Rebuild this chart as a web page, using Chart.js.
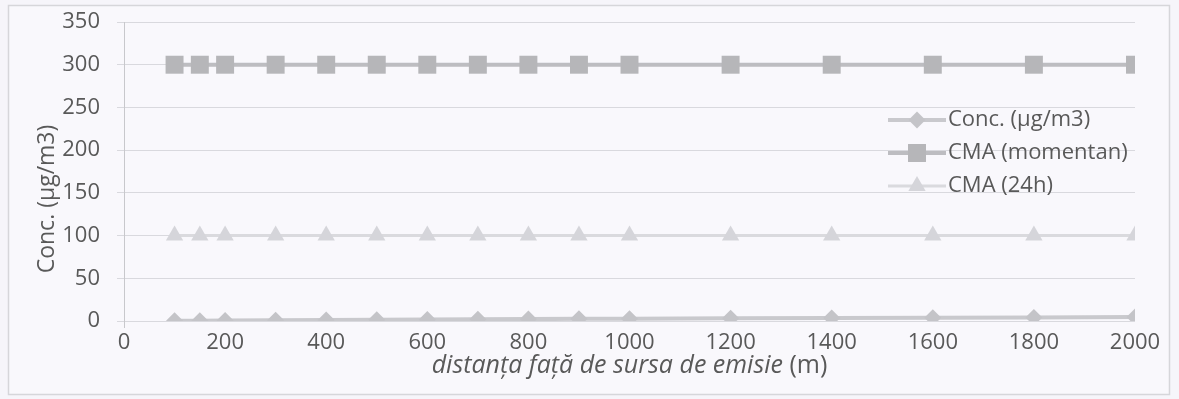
<!DOCTYPE html>
<html>
<head>
<meta charset="utf-8">
<script src="https://cdn.jsdelivr.net/npm/chart.js@4.4.1/dist/chart.umd.min.js"></script>
<style>
  html, body { margin: 0; padding: 0; background: #f6f5fa; }
  canvas { display: block; }
</style>
</head>
<body>
<canvas id="chart" width="1179" height="399"></canvas>
<script>
// distance from the emission source (m)
const distances = [100, 150, 200, 300, 400, 500, 600, 700, 800, 900, 1000, 1200, 1400, 1600, 1800, 2000];
// concentration values (µg/m3)
const conc = [0.3, 0.4, 0.6, 0.8, 1.1, 1.4, 1.7, 2.0, 2.2, 2.5, 2.7, 3.1, 3.5, 3.9, 4.2, 4.6];
const cmaMomentan = [300, 300, 300, 300, 300, 300, 300, 300, 300, 300, 300, 300, 300, 300, 300, 300];
const cma24h = [100, 100, 100, 100, 100, 100, 100, 100, 100, 100, 100, 100, 100, 100, 100, 100];

const seriesNames = ['Conc. (µg/m3)', 'CMA (momentan)', 'CMA (24h)'];
const xTitleItalic = 'distanța față de sursa de emisie';
const xTitleNormal = ' (m)';
const yTitle = 'Conc. (µg/m3)';

const textColor = '#595959';
const fontFamily = "'Open Sans', sans-serif";

function toPoints(values) {
    return distances.map((d, i) => ({ x: d, y: values[i] }));
}

// background + outer frame
const backgroundPlugin = {
    id: 'background',
    beforeDraw(chart) {
        const ctx = chart.ctx;
        ctx.save();
        ctx.fillStyle = '#f6f5fa';
        ctx.fillRect(0, 0, chart.width, chart.height);
        ctx.fillStyle = '#f9f8fc';
        ctx.fillRect(8, 5, 1162, 389);
        ctx.strokeStyle = '#d6d6da';
        ctx.lineWidth = 1.5;
        ctx.strokeRect(8.5, 5.5, 1161, 389);
        ctx.restore();
    }
};

// axis titles (x title has an italic part and a normal part)
const titlesPlugin = {
    id: 'titles',
    afterDraw(chart) {
        const ctx = chart.ctx;
        const area = chart.chartArea;
        ctx.save();
        ctx.fillStyle = textColor;
        ctx.textBaseline = 'middle';

        ctx.font = 'italic 25px ' + fontFamily;
        const w1 = ctx.measureText(xTitleItalic).width;
        ctx.font = '25px ' + fontFamily;
        const w2 = ctx.measureText(xTitleNormal).width;
        let x = (area.left + area.right) / 2 - (w1 + w2) / 2;
        ctx.textAlign = 'left';
        ctx.font = 'italic 25px ' + fontFamily;
        ctx.fillText(xTitleItalic, x, 366);
        ctx.font = '25px ' + fontFamily;
        ctx.fillText(xTitleNormal, x + w1, 366);

        ctx.translate(47, 199);
        ctx.rotate(-Math.PI / 2);
        ctx.textAlign = 'center';
        ctx.font = '23px ' + fontFamily;
        ctx.fillText(yTitle, 0, 0);
        ctx.restore();
    }
};

// legend drawn inside the plot area, like the original
const legendPlugin = {
    id: 'insideLegend',
    afterDatasetsDraw(chart) {
        const ctx = chart.ctx;
        const rows = [120, 153, 186];
        ctx.save();
        chart.data.datasets.forEach((ds, i) => {
            const y = rows[i];
            ctx.strokeStyle = ds.borderColor;
            ctx.lineWidth = ds.borderWidth;
            ctx.beginPath();
            ctx.moveTo(888, y);
            ctx.lineTo(946, y);
            ctx.stroke();
            ctx.fillStyle = ds.pointBackgroundColor;
            ctx.strokeStyle = ds.pointBorderColor;
            ctx.lineWidth = 0;
            Chart.helpers.drawPoint(ctx, {
                pointStyle: ds.pointStyle,
                radius: ds.pointRadius,
                rotation: 0,
                borderWidth: 0
            }, 917, y);
            ctx.fillStyle = textColor;
            ctx.font = '22px ' + fontFamily;
            ctx.textAlign = 'left';
            ctx.textBaseline = 'middle';
            ctx.fillText(ds.label, 948, y);
        });
        ctx.restore();
    }
};

const ctx = document.getElementById('chart').getContext('2d');
new Chart(ctx, {
    type: 'line',
    data: {
        datasets: [{
            label: seriesNames[0],
            data: toPoints(conc),
            borderColor: '#c9c9cd',
            borderWidth: 4,
            pointStyle: 'rectRot',
            pointRadius: 8.5,
            pointBackgroundColor: '#c4c4c8',
            pointBorderColor: '#c4c4c8',
            pointBorderWidth: 0
        }, {
            label: seriesNames[1],
            data: toPoints(cmaMomentan),
            borderColor: '#bdbdc1',
            borderWidth: 4,
            pointStyle: 'rect',
            pointRadius: 12.7,
            pointBackgroundColor: '#b6b6b9',
            pointBorderColor: '#b6b6b9',
            pointBorderWidth: 0
        }, {
            label: seriesNames[2],
            data: toPoints(cma24h),
            borderColor: '#dadade',
            borderWidth: 3,
            pointStyle: 'triangle',
            pointRadius: 10,
            pointBackgroundColor: '#d5d5da',
            pointBorderColor: '#d5d5da',
            pointBorderWidth: 0
        }]
    },
    options: {
        responsive: false,
        animation: false,
        layout: { padding: { left: 0, right: 44, top: 22, bottom: 0 } },
        plugins: {
            legend: { display: false },
            tooltip: { enabled: false }
        },
        scales: {
            x: {
                type: 'linear',
                min: 0,
                max: 2000,
                afterFit(scale) { scale.height = 78; },
                ticks: {
                    stepSize: 200,
                    color: textColor,
                    font: { family: fontFamily, size: 22 },
                    padding: 2,
                    maxRotation: 0,
                    callback: (v) => String(v)
                },
                grid: {
                    drawOnChartArea: false,
                    tickLength: 7,
                    color: (c) => c.tick && c.tick.value === 0 ? '#c8c8cc' : 'rgba(0,0,0,0)'
                },
                border: { display: false }
            },
            y: {
                min: 0,
                max: 350,
                afterFit(scale) {
                    scale.width = 124;
                    scale.paddingTop = 0;
                    scale.paddingBottom = 0;
                },
                ticks: {
                    stepSize: 50,
                    color: textColor,
                    font: { family: fontFamily, size: 22 },
                    padding: 17
                },
                grid: {
                    color: '#d9d9de',
                    lineWidth: 1,
                    tickLength: 7
                },
                border: { color: '#c8c8cc', width: 1 }
            }
        }
    },
    plugins: [backgroundPlugin, titlesPlugin, legendPlugin]
});
</script>
</body>
</html>
